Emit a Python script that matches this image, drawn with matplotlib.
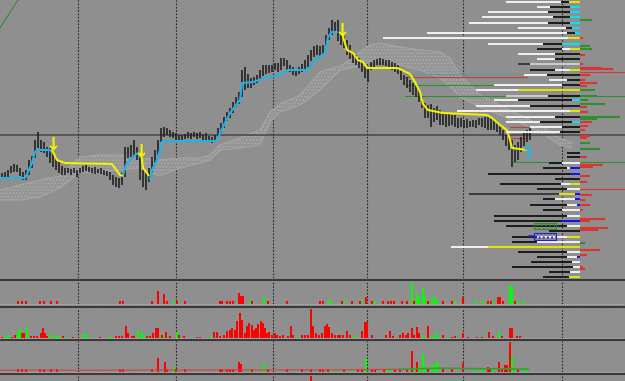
import numpy as np
import matplotlib.pyplot as plt
from matplotlib.lines import Line2D
from matplotlib.patches import Rectangle

W, H = 625, 381
BG = '#8f8f8f'

# price bars, screen rows (smaller = higher price), one bar every 3 px of time
bar_top = [173, 172, 170, 166, 164, 165, 168, 172, 170, 160, 156, 140, 132, 140, 142, 147, 148, 153, 157, 162,
           166, 168, 168, 169, 168, 170, 168, 166, 165, 167, 168, 167, 169, 168, 170, 171, 172, 175, 177, 178,
           173, 147, 147, 145, 140, 147, 157, 170, 173, 168, 157, 150, 140, 128, 127, 128, 130, 132, 133, 135,
           135, 134, 132, 133, 132, 133, 132, 134, 133, 136, 137, 135, 128, 123, 117, 112, 108, 102, 97, 92,
           70, 67, 74, 78, 77, 75, 70, 65, 65, 65, 65, 63, 63, 58, 58, 60, 65, 67, 69, 67,
           64, 60, 55, 50, 46, 45, 46, 45, 35, 28, 20, 22, 20, 34, 36, 40, 45, 52, 55, 58,
           62, 66, 68, 62, 60, 59, 58, 59, 60, 60, 62, 63, 65, 70, 75, 77, 80, 83, 86, 90,
           96, 103, 105, 104, 108, 106, 110, 112, 113, 114, 115, 115, 118, 118, 120, 119, 121, 120, 120, 118,
           118, 117, 117, 118, 120, 122, 125, 130, 135, 138, 140, 145, 142, 137, 133, 130, 128]
bar_bot = [178, 178, 177, 173, 172, 172, 176, 180, 180, 175, 168, 158, 148, 152, 153, 157, 163, 167, 170, 173,
           175, 175, 173, 175, 173, 177, 173, 172, 171, 172, 173, 174, 173, 174, 175, 176, 180, 185, 187, 188,
           185, 177, 158, 157, 157, 160, 180, 187, 190, 182, 173, 163, 155, 142, 137, 135, 137, 138, 140, 140,
           140, 139, 138, 139, 137, 139, 138, 140, 140, 142, 143, 142, 138, 133, 128, 121, 118, 113, 107, 104,
           97, 90, 88, 88, 85, 83, 80, 76, 74, 73, 72, 70, 72, 70, 66, 70, 72, 75, 76, 74,
           72, 70, 67, 61, 57, 55, 56, 54, 48, 40, 35, 31, 41, 45, 48, 55, 59, 63, 65, 68,
           72, 78, 82, 70, 67, 65, 65, 65, 66, 68, 70, 72, 74, 80, 85, 88, 92, 95, 97, 102,
           108, 118, 118, 127, 122, 120, 125, 125, 127, 126, 125, 127, 128, 127, 128, 128, 127, 127, 128, 125,
           127, 128, 130, 130, 130, 132, 135, 140, 146, 150, 167, 162, 160, 152, 146, 142, 140]

# trailing stop lines, in pieces
cyan_x = [[0, 25, 28, 32, 35, 37, 50, 52],
          [123, 126, 130, 135, 138],
          [150, 152, 157, 160, 162, 165, 215, 217, 220, 230, 240, 242, 253, 267, 277, 288, 308, 315, 325, 328, 332, 338]]
cyan_y = [[178, 178, 172, 163, 152, 150, 150, 152],
          [175, 165, 160, 155, 153],
          [180, 170, 160, 150, 142, 141, 141, 140, 133, 113, 100, 83, 82, 77, 76, 70, 70, 60, 53, 37, 32, 32]]
yellow_x = [[52, 57, 65, 112, 120, 123],
            [141, 143, 147, 149],
            [342, 344, 347, 353, 358, 363, 367, 375, 397, 402, 410, 415, 420, 423, 428, 443, 487, 492, 500, 507, 510, 512, 527]]
yellow_y = [[150, 160, 163, 164, 175, 176],
            [152, 168, 173, 176],
            [33, 40, 50, 53, 60, 62, 68, 68, 68, 70, 74, 82, 92, 104, 110, 113, 115, 118, 125, 130, 140, 148, 150]]

sig_x = [53, 141, 342, 528]
sig_y = [145, 152, 31, 154]
sig_up = [False, False, False, True]

# ichimoku cloud
cloud_x = [0, 20, 40, 60, 80, 100, 120, 140, 160, 180, 200, 210, 220, 240, 260, 270, 280, 300, 320, 340,
           350, 360, 370, 380, 400, 420, 440, 450, 460, 480, 500, 520, 540, 560, 572]
span_a = [190, 185, 180, 176, 157, 155, 155, 158, 160, 158, 158, 155, 145, 138, 130, 112, 104, 95, 72, 66,
          60, 52, 45, 43, 47, 50, 52, 58, 75, 95, 105, 115, 125, 138, 143]
span_b = [200, 200, 197, 188, 172, 172, 170, 168, 176, 168, 163, 160, 150, 148, 145, 122, 112, 105, 90, 70,
          68, 66, 62, 60, 65, 70, 78, 86, 97, 107, 115, 123, 132, 145, 148]

# thin price levels
lvl_y = [74, 77, 85, 96, 127, 138, 162, 189]
lvl_x0 = [405, 405, 405, 405, 510, 510, 513, 580]
lvl_x1 = [525, 527, 494, 625, 530, 527, 625, 625]
lvl_col = ['#5a9a9a', '#cc3b3b', '#2f8f2f', '#2f8f2f', '#cc3b3b', '#cc3b3b', '#2f8f2f', '#dd3333']

# volume profile, left side (outer / inner / tip colours as code letters)
prof_y = [2, 7, 12, 17, 23, 28, 33, 38, 44, 49, 54, 59, 64, 70, 75, 80, 85, 90, 96, 100, 106, 111, 117, 122, 127, 132,
          153, 157, 163, 168, 174, 179, 184, 189, 194, 199, 205, 210, 216, 221, 226, 231, 237, 242, 247, 252, 257,
          262, 267, 272, 277]
prof_left = [506, 537, 488, 482, 469, 518, 427, 383, 488, 537, 518, 537, 518, 530, 524, 549, 494, 476, 506, 494, 476,
             457, 506, 506, 530, 506,
             567, 567, 549, 543, 488, 555, 500, 537, 469, 543, 530, 543, 494, 494, 506, 549, 512, 512, 451, 518, 537,
             531, 512, 549, 543]
prof_mid = [561, 550, 548, 553, 548, 566, 567, 568, 543, 562, 555, 555, 530, 555, 547, 567, 562, 518, 548, 518, 530,
            570, 555, 540, 562, 560,
            575, 577, 562, 567, 567, 575, 561, 567, 559, 555, 567, 562, 567, 562, 567, 580, 537, 537, 488, 567, 567,
            572, 573, 570, 569]
prof_tip = [569, 570, 570, 570, 570, 572, 575, 568, 562, 570, 575, 580, 580, 570, 580, 580, 580, 580, 580, 572, 580,
            570, 580, 572, 580, 580,
            580, 580, 580, 570, 570, 580, 570, 580, 575, 575, 577, 580, 580, 580, 580, 580, 567, 580, 580, 580, 577,
            580, 580, 580, 580]
prof_code = ['wky', 'wkc', 'wkc', 'wkc', 'wkc', 'wkc', 'wkc', 'wwy', 'wkc', 'kwy', 'wkk', 'wkk', 'dgg', 'kwy', 'wkk',
             'wkk', 'wkk', 'wyy', 'gkk', 'wkc', 'wkk', 'wwy', 'wkk', 'wkc', 'wkk', 'wkk',
             'kkk', 'kkk', 'kww', 'kwb', 'kkb', 'kkk', 'kwy', 'kww', 'dyb', 'kwb', 'kwb', 'kww', 'kww', 'kbb', 'kww',
             'kkk', 'kwy', 'kww', 'wyy', 'kww', 'kwb', 'kww', 'kww', 'kww', 'kyy']
prof_colors = {'w': '#f2f2f2', 'k': '#1a1a1a', 'y': '#e6e600', 'c': '#00e5ff', 'b': '#1010ff',
               'g': '#cdcdcd', 'd': '#3a3a3a'}

# volume profile, right side
vol_y = [20, 38, 46, 49, 55, 64, 68, 69, 72, 75, 80, 83, 86, 90, 96, 100, 104, 107, 112, 117, 119, 122, 126, 130,
         136, 138, 143, 149, 157, 165, 167, 176, 182, 195, 200, 205, 210, 219, 221, 228, 230, 243, 250, 255, 267, 269]
vol_len = [12, 3, 10, 12, 5, 3, 22, 33, 45, 10, 5, 17, 7, 15, 17, 8, 25, 7, 8, 40, 17, 12, 8, 5,
           10, 7, 10, 20, 7, 23, 13, 10, 7, 12, 5, 10, 3, 25, 10, 28, 18, 5, 20, 7, 3, 5]
vol_col = 'gr' + 'gg' + 'rr' + 'rrr' + 'rrrr' + 'g' + 'gggrr' + 'ggrrr' + 'rrggrrr' + 'rrrrrrrrrrg' + 'rrrr'

# histogram panels
p1_x = [18, 22, 26, 40, 44, 51, 57, 120, 123, 152, 158, 164, 167, 174, 177, 185, 220, 222, 227, 230, 233, 239, 241,
        243, 250, 252, 264, 268, 287, 320, 323, 328, 331, 342, 344, 352, 360, 362, 366, 372, 375, 383, 388, 391, 394,
        402, 407, 412, 414, 417, 419, 423, 425, 428, 432, 435, 437, 443, 452, 455, 463, 475, 483, 488, 491, 493, 498,
        500, 503, 510, 512, 515, 518, 523]
p1_h = [3, 3, 3, 3, 3, 3, 3, 3, 3, 3, 13, 10, 3, 3, 3, 3, 3, 3, 3, 3, 3, 11, 8,
        8, 3, 3, 7, 3, 3, 3, 3, 3, 3, 3, 3, 3, 3, 3, 7, 3, 3, 3, 3, 3, 3,
        3, 3, 22, 3, 10, 6, 16, 7, 3, 7, 7, 3, 3, 3, 3, 7, 3, 3, 3, 3, 3, 7,
        7, 3, 18, 18, 3, 3, 3]
p1_c = 'rrrrrrrrrrrrrgrrrrrrrrr' + 'rgrgrrrrggrgrrgrrgrrrr' + 'rrgrggggrgggrrgrggrrgr' + 'rrggrgg'

p2_x = [2, 7, 9, 12, 15, 18, 20, 22, 24, 27, 31, 34, 37, 41, 43, 45, 47, 50, 54, 57, 60, 63, 67, 73, 84, 86, 100,
        111, 116, 119, 122, 126, 128, 132, 134, 138, 142, 144, 147, 150, 153, 156, 158, 162, 164, 166, 170, 177,
        179, 184, 197, 200, 212, 214, 217, 220, 224, 227, 230, 232, 235, 237, 240, 242, 245, 247, 249, 252, 254,
        256, 258, 261, 263, 265, 267, 269, 272, 275, 277, 280, 283, 288, 291, 293, 297, 302, 305, 308, 311, 313,
        316, 319, 322, 325, 327, 329, 332, 335, 338, 340, 343, 347, 350, 354, 362, 365, 367, 372, 386, 390, 393,
        400, 403, 406, 408, 412, 414, 417, 419, 423, 428, 432, 435, 438, 443, 448, 452, 455, 463, 468, 477, 482,
        489, 493, 499, 502, 510, 512, 517, 520]
p2_h = [1, 2, 3, 1, 3, 6, 10, 5, 5, 10, 2, 2, 2, 5, 10, 5, 2, 3, 3, 2, 2, 2, 1, 1, 4, 4, 1,
        2, 2, 2, 2, 12, 5, 2, 2, 8, 5, 3, 2, 2, 5, 10, 10, 3, 3, 6, 2, 6,
        3, 2, 1, 1, 2, 6, 6, 2, 3, 7, 8, 10, 8, 17, 25, 18, 5, 12, 15, 13, 8,
        10, 14, 17, 15, 10, 5, 6, 3, 5, 3, 2, 3, 2, 12, 3, 1, 3, 3, 3, 29, 12,
        5, 3, 5, 12, 14, 11, 5, 3, 3, 3, 3, 7, 3, 2, 7, 16, 16, 3, 3, 7, 2,
        3, 5, 3, 5, 10, 3, 11, 5, 3, 12, 2, 5, 3, 3, 1, 1, 2, 5, 1, 1, 1,
        6, 2, 6, 2, 10, 10, 2, 2]
p2_c = ('rggrrggrrgrrrrrrrggggrgrggr' + 'grrrrrrrgggrrrrrrgrrgr' + 'rrrgrrrrrrrrrrrrrrrrr'
        + 'rrrrrrrrrrrrrrgrrrrrrrrr' + 'rrrrrrrrrgrrrrrrrrrrr' + 'rrrrgrgggrgrrrrrrrrgr' + 'rrrrgggg')

p3_x = [18, 22, 26, 40, 44, 51, 57, 120, 123, 152, 158, 165, 167, 174, 176, 185, 220, 222, 227, 230, 233, 239, 241,
        250, 252, 264, 268, 287, 302, 311, 320, 323, 328, 331, 342, 344, 352, 358, 362, 366, 372, 375, 384, 387, 390,
        395, 400, 407, 412, 414, 417, 419, 423, 425, 428, 432, 435, 437, 443, 452, 463, 475, 483, 488, 490, 493, 499,
        502, 505, 507, 510, 512, 515, 518, 523, 527]
p3_h = [3, 3, 3, 3, 3, 3, 3, 3, 3, 3, 14, 10, 3, 5, 3, 3, 3, 3, 3, 3, 3, 10, 8,
        3, 3, 8, 3, 3, 3, 3, 3, 3, 3, 3, 3, 3, 3, 3, 3, 14, 3, 3, 3, 3, 3,
        3, 3, 3, 21, 3, 10, 6, 18, 5, 3, 7, 7, 10, 3, 3, 9, 3, 3, 5, 3, 3, 10,
        3, 7, 7, 30, 16, 3, 3, 3, 3]
p3_c = 'rrrrrrrrrrrrrgrrrrrrrrr' + 'grgrrrrrrrggrgrrgrrrggr' + 'rrrgrgggrgggrrrggrrgr' + 'rrrrggrggg'
p3_line_x = [0, 120, 240, 330, 400, 440, 480, 528]
p3_line_h = [1.5, 1.5, 1.8, 1.8, 2.5, 3.5, 3.0, 2.5]

p4_x = [311]
p4_h = [5]

grid_x = [78, 175.5, 273, 366.5, 463, 562]

RED, GREEN = '#ff0000', '#00ff00'


def px_axes(fig, top, bottom):
    # axes spanning full width between two screen rows
    ax = fig.add_axes([0, 1 - bottom / H, 1, (bottom - top) / H])
    ax.set_xlim(0, W)
    ax.set_axis_off()
    ax.patch.set_alpha(0)
    for gx in grid_x:
        ax.axvline(gx, color='#262626', lw=0.8, ls=(0, (1.5, 1.5)), zorder=0)
    return ax


fig = plt.figure(figsize=(W / 100, H / 100), dpi=100)
fig.patch.set_facecolor(BG)

# ---- main price panel
ax = px_axes(fig, 0, 278)
ax.set_ylim(278, 0)

ax.fill_between(cloud_x, span_a, span_b, facecolor='#939393', edgecolor='#a9a9a9',
                hatch='.....', lw=0, zorder=1)
ax.plot(cloud_x, span_a, color='#a6a6a6', lw=0.8, zorder=1)
ax.plot(cloud_x, span_b, color='#a6a6a6', lw=0.8, zorder=1)

ax.axhline(135, color='#464646', lw=1.1, zorder=2)
ax.plot([0, 18], [28, 0], color='#2f8f2f', lw=0.8, zorder=2)

for y, x0, x1, c in zip(lvl_y, lvl_x0, lvl_x1, lvl_col):
    ax.plot([x0, x1], [y, y], color=c, lw=0.8, zorder=2)

bar_x = 1.5 + 3 * np.arange(len(bar_top))
ax.vlines(bar_x, bar_top, bar_bot, color='#222222', lw=1.2, zorder=3)

for xs, ys in zip(cyan_x, cyan_y):
    ax.plot(xs, ys, color='#1fb4e8', lw=1.5, zorder=4, solid_capstyle='butt')
for xs, ys in zip(yellow_x, yellow_y):
    ax.plot(xs, ys, color='#f2f200', lw=1.5, zorder=4, solid_capstyle='butt')

for x, y, up in zip(sig_x, sig_y, sig_up):
    ax.text(x, y, '\u2191' if up else '\u2193', color='#1fb4e8' if up else '#f2f200',
            fontsize=13, fontweight='bold', ha='center', va='center', zorder=5)

# volume profile
for y, l, m, t, code in zip(prof_y, prof_left, prof_mid, prof_tip, prof_code):
    segs = [(l, m, code[0]), (m, t, code[1]), (t, 580, code[2])]
    for a, b, k in segs:
        if b > a:
            ax.plot([a, b], [y, y], color=prof_colors[k], lw=1.4, zorder=6, solid_capstyle='butt')
for y, ln, k in zip(vol_y, vol_len, vol_col):
    thin = ln >= 45
    ax.plot([580, 580 + ln], [y, y], color='#dd3333' if k == 'r' else '#2f8f2f',
            lw=0.8 if thin else 1.5, zorder=6, solid_capstyle='butt')

ax.add_patch(Rectangle((534, 223), 22, 6, facecolor='none', edgecolor='#2f8f2f', hatch='....', lw=0.8, zorder=7))
ax.add_patch(Rectangle((534, 233), 22, 7, facecolor='none', edgecolor='#2020e0', hatch='....', lw=0.8, zorder=7))
ax.plot([529, 534], [236, 236], color='#2020e0', lw=1.2, zorder=7)

# ---- histogram panels
panels = [(281, 303.5, p1_x, p1_h, p1_c),
          (308, 337.7, p2_x, p2_h, p2_c),
          (341, 371.7, p3_x, p3_h, p3_c)]
sub_axes = []
for top, base, xs, hs, cs in panels:
    a = px_axes(fig, top, base)
    a.set_ylim(0, base - top)
    a.bar(xs, hs, width=2, color=[RED if c == 'r' else GREEN for c in cs], lw=0, zorder=3)
    sub_axes.append(a)

a3 = sub_axes[2]
split = 4
a3.plot(p3_line_x[:split + 1], p3_line_h[:split + 1], color='#d04040', lw=0.8, zorder=4)
a3.plot(p3_line_x[split:], p3_line_h[split:], color='#3a9a3a', lw=1.2, zorder=4)

a4 = px_axes(fig, 375.5, 381)
a4.set_ylim(0, 5.5)
a4.bar(p4_x, p4_h, width=2, color=RED, lw=0)

# zero lines and panel separators
for base in [303.5, 337.7, 371.7]:
    fig.add_artist(Line2D([0, 1], [1 - base / H] * 2, color='#b5b5b5', lw=0.8, ls=(0, (1, 1))))
for sep in [279.5, 306.5, 339.5, 374.2]:
    fig.add_artist(Line2D([0, 1], [1 - sep / H] * 2, color='#3a3a3a', lw=1.5))

fig.savefig('out.png', dpi=100, facecolor=BG)
